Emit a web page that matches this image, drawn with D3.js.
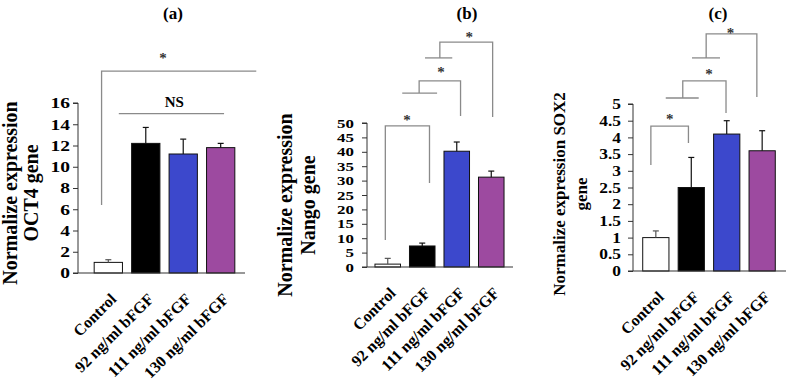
<!DOCTYPE html>
<html>
<head>
<meta charset="utf-8">
<script src="https://cdn.jsdelivr.net/npm/d3@7"></script>
<style>
  html, body { margin: 0; padding: 0; background: #fff; }
  svg { display: block; font-family: "Liberation Serif", "Times New Roman", serif; font-weight: bold; }
</style>
</head>
<body>
<svg id="chart" width="789" height="384"></svg>
<script>
// ---------------- DATA ----------------
const categories = ["Control", "92 ng/ml bFGF", "111 ng/ml bFGF", "130 ng/ml bFGF"];

const oct4Values = [1.0, 12.2, 11.2, 11.8];
const oct4Errors = [0.25, 1.5, 1.4, 0.4];
const oct4Ticks = [0, 2, 4, 6, 8, 10, 12, 14, 16];

const nanogValues = [1.0, 7.3, 40.2, 31.2];
const nanogErrors = [2.0, 1.0, 3.2, 2.1];
const nanogTicks = [0, 5, 10, 15, 20, 25, 30, 35, 40, 45, 50];

const sox2Values = [1.0, 2.5, 4.1, 3.6];
const sox2Errors = [0.2, 0.9, 0.4, 0.6];
const sox2Ticks = [0, 0.5, 1, 1.5, 2, 2.5, 3, 3.5, 4, 4.5, 5];

// significance annotations (x in category index units, y in data units)
const oct4Brackets = [
  { path: [[-0.18, 6.4], [-0.18, 19.0], [3.95, 19.0]], label: "*", lx: 1.46, ly: 20.2 }
];
const oct4NS = { x1: 0.28, x2: 3.09, y: 15.0, label: "NS", lx: 1.76, ly: 15.6 };

const nanogBrackets = [
  { path: [[-0.07, 9.4], [-0.07, 49.0], [1.21, 49.0], [1.21, 29.2]], label: "*", lx: 0.56, ly: 51.0 },
  { path: [[0.42, 60.4], [1.43, 60.4]], label: null },
  { path: [[0.91, 60.4], [0.91, 64.6], [2.11, 64.6], [2.11, 52.4]], label: "*", lx: 1.54, ly: 67.6 },
  { path: [[1.08, 72.6], [1.87, 72.6]], label: null },
  { path: [[1.51, 72.6], [1.51, 78.1], [3.04, 78.1], [3.04, 52.1]], label: "*", lx: 2.36, ly: 79.7 }
];

const sox2Brackets = [
  { path: [[-0.14, 3.17], [-0.14, 4.34], [0.92, 4.34], [0.92, 3.83]], label: "*", lx: 0.39, ly: 4.55 },
  { path: [[0.28, 5.18], [1.21, 5.18]], label: null },
  { path: [[0.76, 5.18], [0.76, 5.69], [1.98, 5.69], [1.98, 4.73]], label: "*", lx: 1.50, ly: 5.90 },
  { path: [[1.02, 6.38], [1.81, 6.38]], label: null },
  { path: [[1.42, 6.38], [1.42, 7.10], [2.85, 7.10], [2.85, 5.21]], label: "*", lx: 2.11, ly: 7.13 }
];

// ---------------- STYLE ----------------
const barColors = ["#ffffff", "#000000", "#3c48cc", "#9d4aa0"];
const bracketColor = "#8a8a8a";

const panels = [
  {
    title: "(a)", titleX: 173, titleY: 13,
    values: oct4Values, errors: oct4Errors, ticks: oct4Ticks, yMax: 16,
    axisX: 78, axisEnd: 245, y0: 273, yTop: 103, band: [85, 244], pad: 0.245,
    tickFont: 15, tickScale: 1.3, tickOffset: 8,
    ylabel: ["Normalize expression", "OCT4 gene"], ylabelX: [17, 38], ylabelY: 193, ylabelFont: 20,
    brackets: oct4Brackets, ns: oct4NS
  },
  {
    title: "(b)", titleX: 467, titleY: 13,
    values: nanogValues, errors: nanogErrors, ticks: nanogTicks, yMax: 50,
    axisX: 367, axisEnd: 513, y0: 267, yTop: 123, band: [366, 513], pad: 0.26,
    tickFont: 13, tickScale: 1.3, tickOffset: 13,
    ylabel: ["Normalize expression", "Nango gene"], ylabelX: [292, 315], ylabelY: 205, ylabelFont: 20,
    brackets: nanogBrackets, ns: null
  },
  {
    title: "(c)", titleX: 718, titleY: 13,
    values: sox2Values, errors: sox2Errors, ticks: sox2Ticks, yMax: 5,
    axisX: 633, axisEnd: 786, y0: 271, yTop: 104, band: [633.5, 784.5], pad: 0.26,
    tickFont: 14.5, tickScale: 1.2, tickOffset: 12,
    ylabel: ["Normalize expression SOX2", "gene"], ylabelX: [565, 587], ylabelY: 194, ylabelFont: 17,
    brackets: sox2Brackets, ns: null
  }
];

const svg = d3.select("#chart");

panels.forEach(p => {
  const g = svg.append("g");
  const x = d3.scaleBand().domain(categories).range(p.band).padding(p.pad);
  const y = d3.scaleLinear().domain([0, p.yMax]).range([p.y0, p.yTop]);
  const step = x.step();
  const cx = i => x(categories[0]) + x.bandwidth() / 2 + i * step;

  // title
  g.append("text").attr("x", p.titleX).attr("y", p.titleY)
    .attr("text-anchor", "middle").attr("dominant-baseline", "central")
    .attr("font-size", 17).text(p.title);

  // y axis
  const yAxis = d3.axisLeft(y).tickValues(p.ticks).tickSize(5).tickPadding(3)
    .tickFormat(d3.format("~g"));
  const ya = g.append("g").attr("transform", `translate(${p.axisX},0)`).call(yAxis);
  ya.select(".domain").attr("stroke", "#333").attr("d", `M-5,${p.y0}H0V${p.yTop}H-5`);
  ya.selectAll(".tick line").attr("stroke", "#333");
  ya.selectAll(".tick text").attr("font-size", p.tickFont)
    .attr("font-family", "Liberation Serif").attr("font-weight", "bold").attr("fill", "#000")
    .attr("x", 0)
    .attr("transform", `translate(${-p.tickOffset},0) scale(${p.tickScale},1)`);

  // bars
  g.selectAll("rect.bar").data(p.values).join("rect")
    .attr("class", "bar")
    .attr("x", (d, i) => x(categories[i]))
    .attr("width", x.bandwidth())
    .attr("y", d => y(d))
    .attr("height", d => p.y0 - y(d))
    .attr("fill", (d, i) => barColors[i])
    .attr("stroke", "#111").attr("stroke-width", 1);

  // error bars (upper only)
  p.values.forEach((v, i) => {
    const c = x(categories[i]) + x.bandwidth() / 2;
    const top = y(v + p.errors[i]);
    g.append("line").attr("x1", c).attr("x2", c).attr("y1", y(v)).attr("y2", top)
      .attr("stroke", i === 0 ? "#555" : "#111").attr("stroke-width", 1.2);
    g.append("line").attr("x1", c - 3).attr("x2", c + 3).attr("y1", top).attr("y2", top)
      .attr("stroke", i === 0 ? "#555" : "#111").attr("stroke-width", 1.2);
  });

  // x axis
  g.append("line").attr("x1", p.axisX).attr("x2", p.axisEnd)
    .attr("y1", p.y0).attr("y2", p.y0).attr("stroke", "#333").attr("stroke-width", 1.2);

  // x labels
  categories.forEach((c, i) => {
    const xc = x(c) + x.bandwidth() / 2 + 9;
    const yc = p.y0 + 27;
    g.append("text").attr("transform", `translate(${xc},${yc}) rotate(-45)`)
      .attr("text-anchor", "end").attr("font-size", 16).text(c);
  });

  // y label
  p.ylabel.forEach((t, k) => {
    g.append("text").attr("transform", `translate(${p.ylabelX[k]},${p.ylabelY}) rotate(-90)`)
      .attr("text-anchor", "middle").attr("font-size", p.ylabelFont).text(t);
  });

  // brackets
  const line = d3.line().x(d => cx(d[0])).y(d => y(d[1]));
  p.brackets.forEach(b => {
    g.append("path").attr("d", line(b.path)).attr("fill", "none")
      .attr("stroke", bracketColor).attr("stroke-width", 1.3);
    if (b.label) {
      g.append("text").attr("x", cx(b.lx)).attr("y", y(b.ly))
        .attr("text-anchor", "middle").attr("dominant-baseline", "central")
        .attr("font-size", 15).attr("fill", "#333").text(b.label);
    }
  });
  if (p.ns) {
    g.append("line").attr("x1", cx(p.ns.x1)).attr("x2", cx(p.ns.x2))
      .attr("y1", y(p.ns.y)).attr("y2", y(p.ns.y))
      .attr("stroke", bracketColor).attr("stroke-width", 1.3);
    g.append("text").attr("x", cx(p.ns.lx)).attr("y", y(p.ns.ly))
      .attr("text-anchor", "middle").attr("font-size", 15).text(p.ns.label);
  }
});
</script>
</body>
</html>
